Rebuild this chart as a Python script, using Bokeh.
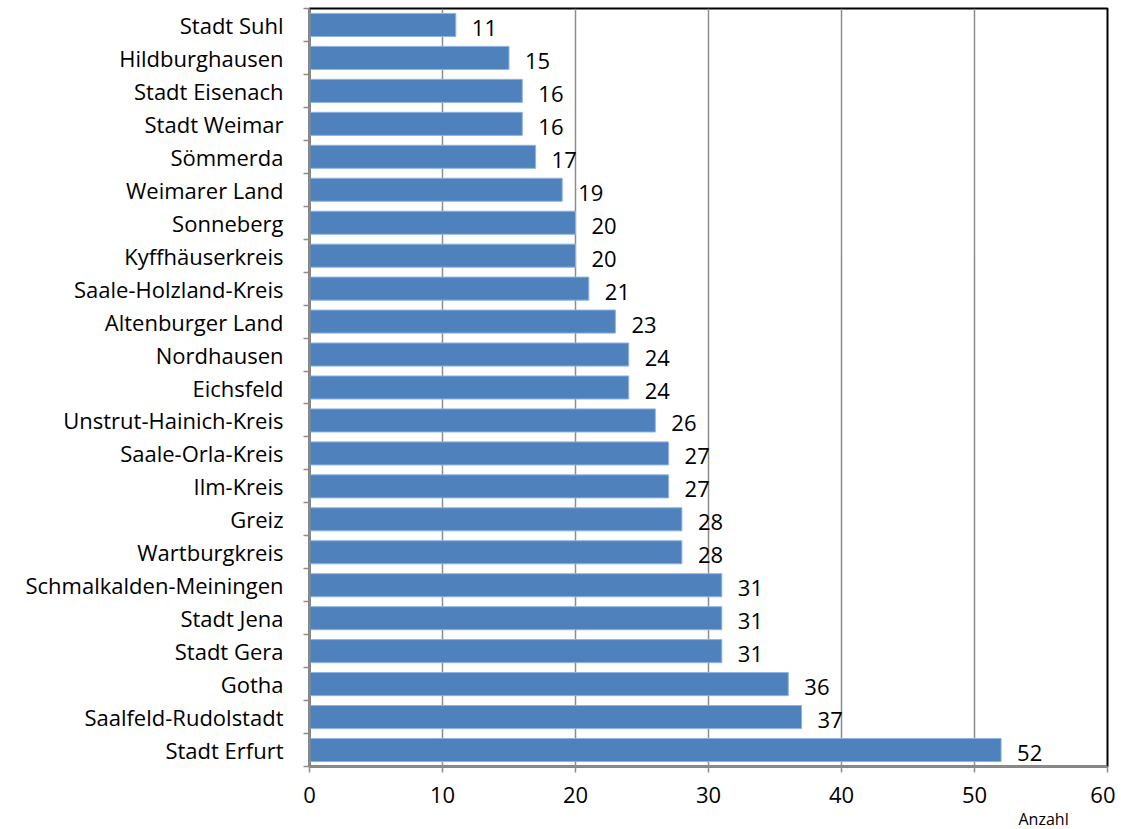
from bokeh.plotting import figure
from bokeh.models import FixedTicker, Title, ColumnDataSource, Range1d
from bokeh.core.properties import value
from bokeh.embed import file_html
from bokeh.resources import INLINE

regions = ["Stadt Suhl", "Hildburghausen", "Stadt Eisenach", "Stadt Weimar", "Sömmerda",
           "Weimarer Land", "Sonneberg", "Kyffhäuserkreis", "Saale-Holzland-Kreis",
           "Altenburger Land", "Nordhausen", "Eichsfeld", "Unstrut-Hainich-Kreis",
           "Saale-Orla-Kreis", "Ilm-Kreis", "Greiz", "Wartburgkreis",
           "Schmalkalden-Meiningen", "Stadt Jena", "Stadt Gera", "Gotha",
           "Saalfeld-Rudolstadt", "Stadt Erfurt"]
counts = [11, 15, 16, 16, 17, 19, 20, 20, 21, 23, 24, 24, 26, 27, 27, 28, 28, 31, 31, 31, 36, 37, 52]
x_ticks = [0, 10, 20, 30, 40, 50, 60]
x_title = "Anzahl"

n = len(regions)
ypos = [n - i for i in range(n)]
src = ColumnDataSource(dict(y=ypos, v=counts, lab=[str(c) for c in counts]))

FONT = "Open Sans"
FS = "22px"

p = figure(width=1115, height=829, output_backend="svg", toolbar_location=None,
           x_range=Range1d(0, 60), y_range=Range1d(0.5, n + 0.5),
           min_border_left=309, min_border_right=8, min_border_top=8, min_border_bottom=0)

p.hbar(y="y", right="v", left=0, height=0.7, source=src,
       fill_color="#4F81BD", line_color="#8EB4E3", line_width=1)

p.text(x="v", y="y", text="lab", source=src, x_offset=16, y_offset=3,
       text_baseline="middle", text_align="left",
       text_font=value(FONT), text_font_size=FS, text_color="#000000")

p.outline_line_color = "#000000"
p.outline_line_width = 2

# grid
p.ygrid.grid_line_color = None
p.xgrid.ticker = FixedTicker(ticks=x_ticks)
p.xgrid.grid_line_color = "#8C8C8C"
p.xgrid.grid_line_width = 1.5

# x axis
xa = p.xaxis[0]
xa.ticker = FixedTicker(ticks=x_ticks)
xa.axis_line_color = "#8C8C8C"
xa.axis_line_width = 2
xa.major_tick_line_color = "#8C8C8C"
xa.major_tick_line_width = 1.5
xa.major_tick_in = 0
xa.major_tick_out = 6
xa.minor_tick_line_color = None
xa.major_label_text_font = FONT
xa.major_label_text_font_size = FS
xa.major_label_text_color = "#000000"
xa.major_label_standoff = 14

# y axis
ya = p.yaxis[0]
ya.ticker = FixedTicker(ticks=ypos, minor_ticks=[k + 0.5 for k in range(n + 1)])
ya.major_label_overrides = {y: r for y, r in zip(ypos, regions)}
ya.axis_line_color = "#8C8C8C"
ya.axis_line_width = 2
ya.major_tick_line_color = None
ya.major_tick_in = 0
ya.major_tick_out = 0
ya.minor_tick_line_color = "#8C8C8C"
ya.minor_tick_line_width = 1.5
ya.minor_tick_in = 0
ya.minor_tick_out = 6
ya.major_label_text_font = FONT
ya.major_label_text_font_size = FS
ya.major_label_text_color = "#000000"
ya.major_label_standoff = 20

p.add_layout(Title(text=x_title, align="left", offset=709, standoff=0,
                   text_font=FONT, text_font_size="16px", text_font_style="normal",
                   text_color="#000000"), "below")

open("out.html", "w").write(file_html(p, INLINE))
